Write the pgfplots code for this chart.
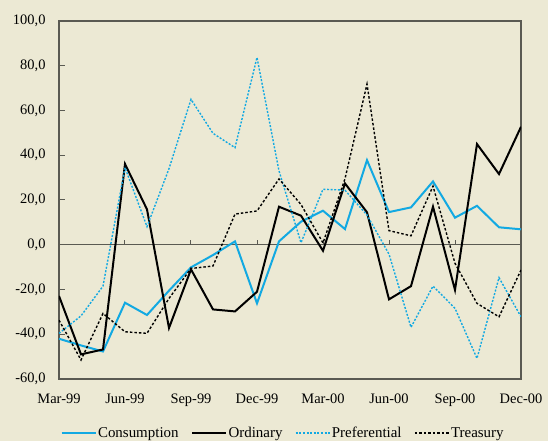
\documentclass[border=0pt]{standalone}
\usepackage{fontspec}
\setmainfont{Liberation Serif}
\usepackage{pgfplots}
\usepackage{pgfplotstable}
\pgfplotsset{compat=1.18}
\definecolor{bgc}{RGB}{236,233,212}
\definecolor{axisgray}{RGB}{90,90,82}
\definecolor{cblue}{RGB}{18,169,226}
\pgfplotstableread{
i cons ord pref treas
0 -42.0 -22.9 -39.6 -33.7
1 -45.0 -49.0 -31.8 -51.5
2 -47.7 -46.8 -18.5 -30.7
3 -25.9 36.1 34.5 -38.9
4 -31.4 15.8 8.1 -39.6
5 -20.5 -37.2 34.0 -24.0
6 -10.1 -11.0 65.0 -10.6
7 -4.6 -28.9 49.8 -9.5
8 1.5 -29.8 43.4 13.7
9 -26.2 -21.0 83.7 15.1
10 1.5 17.0 33.0 29.4
11 10.3 13.0 0.9 18.0
12 15.2 -2.7 24.8 0.8
13 7.0 27.4 24.4 29.5
14 37.8 14.5 13.3 71.8
15 14.6 -24.4 -4.2 6.3
16 16.7 -18.5 -36.9 4.0
17 28.3 17.0 -18.5 26.2
18 12.1 -20.2 -28.4 -8.3
19 17.4 45.0 -50.8 -26.2
20 7.8 31.6 -14.7 -32.2
21 6.9 52.7 -32.2 -11.3
}\datatable
\begin{document}
\begin{tikzpicture}
\fill[bgc] (-59bp,-62bp) rectangle (489bp,379bp);
\begin{axis}[
  scale only axis, width=462bp, height=358bp,
  xmin=0, xmax=21, ymin=-60, ymax=100,
  axis line style={draw=axisgray, line width=1.2bp},
  xtick={0,3,...,21},
  xticklabels={Mar-99,Jun-99,Sep-99,Dec-99,Mar-00,Jun-00,Sep-00,Dec-00},
  x tick style={draw=none},
  ytick={-60,-40,...,100},
  yticklabels={{-60,0},{-40,0},{-20,0},{0,0},{20,0},{40,0},{60,0},{80,0},{100,0}},
  y tick style={draw=axisgray, line width=1bp},
  major tick length=6bp, tick align=inside, ytick pos=left,
  tick label style={font=\fontsize{14.5}{16}\selectfont, text=black},
  yticklabel style={xshift=-10bp},
  xticklabel style={yshift=-11bp},
  legend columns=4,
  legend style={at={(0.4845,-0.151)}, anchor=center, draw=none, fill=none,
    font=\fontsize{15}{17}\selectfont,
    nodes={inner xsep=1.5bp},
    /tikz/every even column/.append style={column sep=11bp}},
  legend image code/.code={\draw[#1] (0bp,0bp) -- (34bp,0bp);},
]
\addplot[axisgray, line width=1.2bp, forget plot] coordinates {(0,0) (21,0)};
\pgfplotsinvokeforeach{3,6,9,12,15,18,21}{\draw[axisgray, line width=1bp] (axis cs:#1,0) -- (axis cs:#1,2.2);}
\addplot[cblue, line width=2bp] table[x=i, y=cons] {\datatable};
\addlegendentry{Consumption}
\addplot[black, line width=2bp] table[x=i, y=ord] {\datatable};
\addlegendentry{Ordinary}
\addplot[cblue, line width=1.4bp, dash pattern=on 2bp off 1.6bp] table[x=i, y=pref] {\datatable};
\addlegendentry{Preferential}
\addplot[black, line width=1.4bp, dash pattern=on 2.5bp off 2bp] table[x=i, y=treas] {\datatable};
\addlegendentry{Treasury}
\end{axis}
\end{tikzpicture}
\end{document}
